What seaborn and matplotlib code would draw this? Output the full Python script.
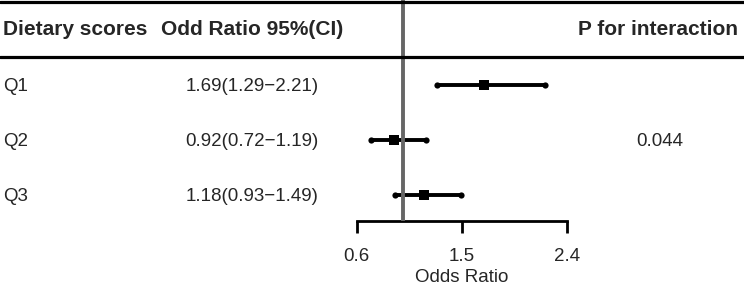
import matplotlib
matplotlib.use("Agg")
import matplotlib.pyplot as plt
import matplotlib.transforms as mtransforms
import seaborn as sns
import pandas as pd

# ---- data ----
groups = ["Q1", "Q2", "Q3"]
odds_ratio = [1.69, 0.92, 1.18]
ci_low = [1.29, 0.72, 0.93]
ci_high = [2.21, 1.19, 1.49]
or_labels = ["1.69(1.29\u22122.21)", "0.92(0.72\u22121.19)", "1.18(0.93\u22121.49)"]
p_interaction = "0.044"
x_ticks = [0.6, 1.5, 2.4]
x_tick_labels = ["0.6", "1.5", "2.4"]
headers = ["Dietary scores", "Odd Ratio 95%(CI)", "P for interaction"]
ref_value = 1.0

sns.set_theme(style="white")
plt.rcParams["font.family"] = ["Liberation Sans", "DejaVu Sans"]
FS = 13.5
FSB = 15.0

W, H = 744, 285
fig = plt.figure(figsize=(W / 100, H / 100), dpi=100)

# axes spanning full width; bottom spine at y=221px
ax = fig.add_axes([0, 1 - 221 / H, 1, 221 / H])
px_per_unit = 116.67
x0_px = 356.7
ax.set_xlim(0.6 - x0_px / px_per_unit, 0.6 + (W - x0_px) / px_per_unit)
row0, step = 84.5, 55.0
ax.set_ylim((221 - row0) / step, -row0 / step)

df = pd.DataFrame({"group": groups, "pos": range(len(groups)), "OR": odds_ratio,
                   "lo": ci_low, "hi": ci_high})

# CI lines
ax.hlines(df["pos"], df["lo"], df["hi"], color="black", lw=2.8, zorder=3)
# end dots
ends = pd.DataFrame({"x": list(df["lo"]) + list(df["hi"]), "y": list(df["pos"]) * 2})
sns.scatterplot(data=ends, x="x", y="y", ax=ax, s=20, color="black", marker="o",
                edgecolor="black", linewidth=0, zorder=4, legend=False)
# point estimates
sns.scatterplot(data=df, x="OR", y="pos", ax=ax, s=42, color="black", marker="s",
                edgecolor="black", linewidth=0, zorder=5, legend=False)

# reference line
ax.vlines(ref_value, ax.get_ylim()[1], ax.get_ylim()[0], color="#666666", lw=2.8, zorder=10)

# axis styling
for sp in ["top", "left", "right"]:
    ax.spines[sp].set_visible(False)
ax.spines["bottom"].set_bounds(x_ticks[0], x_ticks[-1])
ax.spines["bottom"].set_linewidth(2.0)
ax.spines["bottom"].set_color("black")
ax.set_xticks(x_ticks)
ax.set_xticklabels(x_tick_labels, fontsize=FS)
ax.tick_params(axis="x", direction="out", length=8.6, width=2.0, color="black",
               pad=11, bottom=True)
ax.set_yticks([])
ax.set_xlabel("")
ax.set_ylabel("")

def fy(py):
    return 1 - py / H

# header lines (figure coords)
for py in [1.8, 57]:
    fig.add_artist(plt.Line2D([0, 1], [fy(py), fy(py)], color="black", lw=2.3,
                              transform=fig.transFigure, zorder=5))

# headers
fig.text(3 / W, fy(35), headers[0], fontsize=FSB, fontweight="bold", ha="left", va="baseline")
fig.text(252.5 / W, fy(35), headers[1], fontsize=FSB, fontweight="bold", ha="center", va="baseline")
fig.text(738 / W, fy(35), headers[2], fontsize=FSB, fontweight="bold", ha="right", va="baseline")

# row texts (y in data coords)
trans_l = mtransforms.blended_transform_factory(fig.transFigure, ax.transData)
for i, (g, lab) in enumerate(zip(groups, or_labels)):
    ax.text(3 / W, i, g, fontsize=FS, ha="left", va="center_baseline", transform=trans_l)
    ax.text(252 / W, i, lab, fontsize=FS, ha="center", va="center_baseline", transform=trans_l)
ax.text(660 / W, 1, p_interaction, fontsize=FS, ha="center", va="center_baseline",
        transform=trans_l)

# x label
fig.text(461.7 / W, fy(282), "Odds Ratio", fontsize=FS, ha="center", va="baseline")

fig.savefig("out.png", dpi=100)
